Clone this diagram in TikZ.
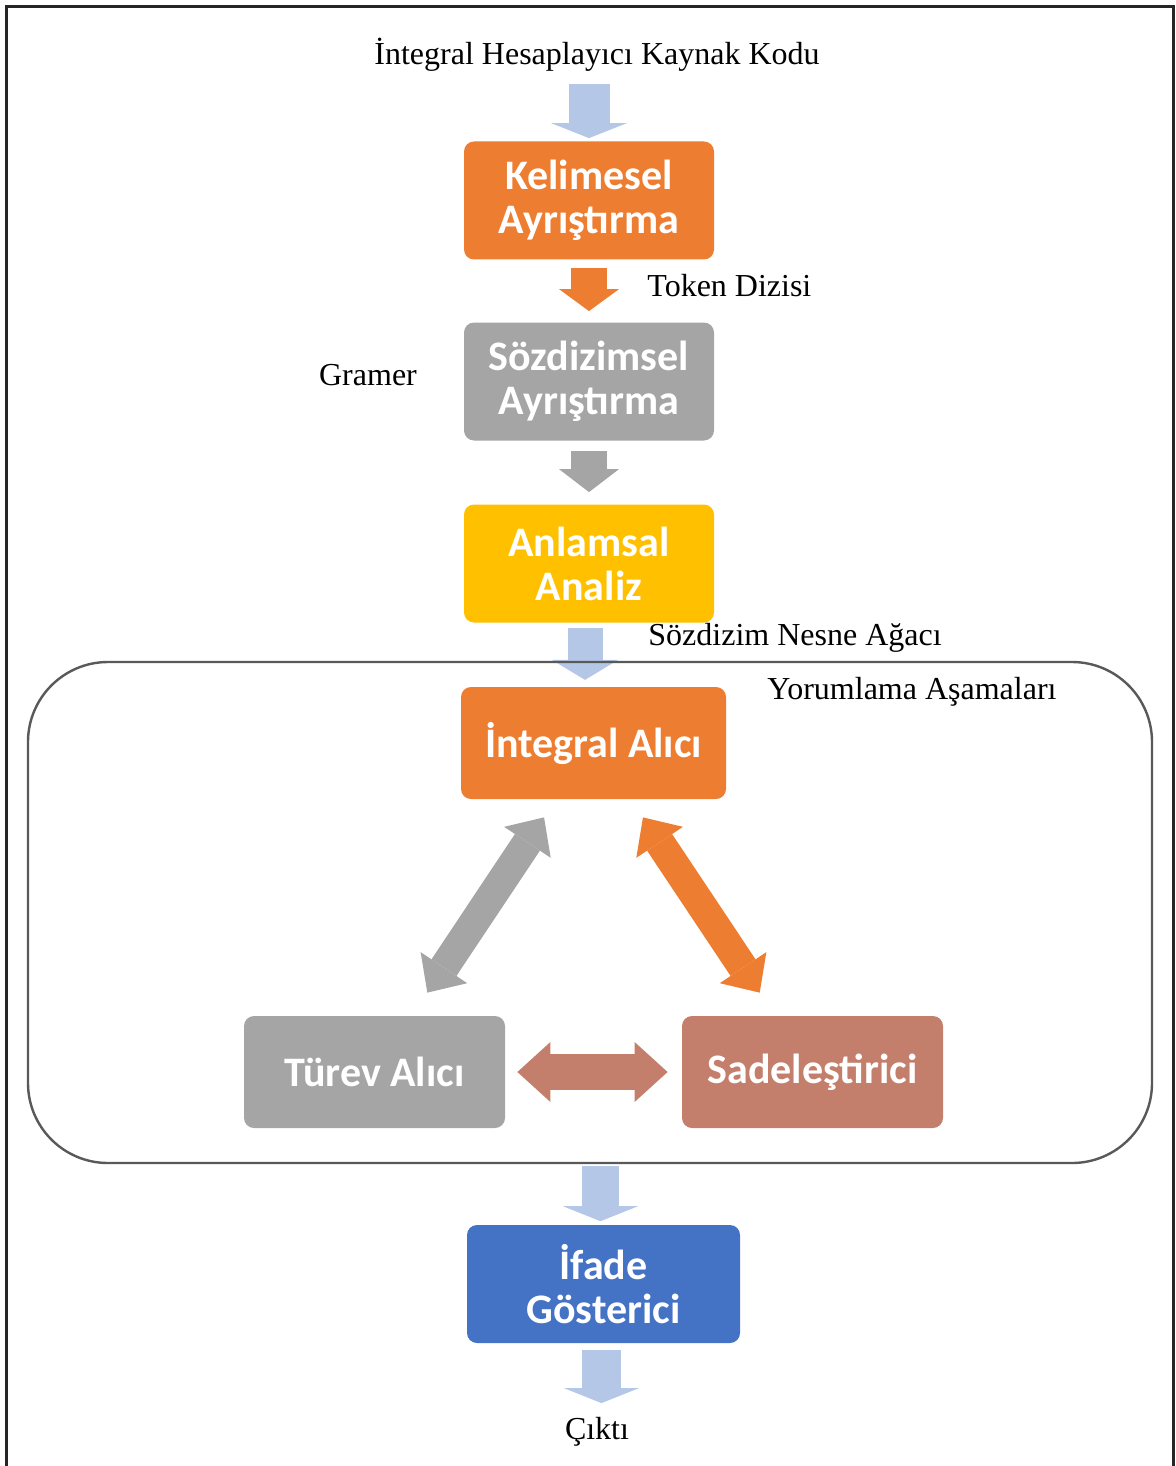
\documentclass[tikz,border=0pt]{standalone}
\usepackage{fontspec}
\setmainfont{Liberation Serif}
\newfontfamily\kutufont{Carlito}
\usetikzlibrary{arrows.meta, positioning}

\definecolor{turuncu}{HTML}{ED7D31}
\definecolor{gri}{HTML}{A5A5A5}
\definecolor{sari}{HTML}{FFC000}
\definecolor{mavi}{HTML}{4472C4}
\definecolor{acikmavi}{HTML}{B4C7E7}
\definecolor{kiremit}{RGB}{196,127,108}
\definecolor{cizgi}{HTML}{595959}

\tikzset{
  kutu/.style={rounded corners=5pt, minimum width=125pt, minimum height=59pt,
    align=center, text=white, inner sep=2pt,
    font=\kutufont\bfseries\fontsize{21}{22}\selectfont},
  etiket/.style={font=\fontsize{16}{18}\selectfont, inner sep=1pt},
  blok/.style n args={4}{color=#1, line width=#2,
    -{Triangle[length=#3 0 0, width=#4 0 0, line width=0pt 0 0]}},
  ciftblok/.style n args={4}{color=#1, line width=#2,
    {Triangle[length=#3 0 0, width=#4 0 0, line width=0pt 0 0]}-{Triangle[length=#3 0 0, width=#4 0 0, line width=0pt 0 0]}}
}

\begin{document}
\begin{tikzpicture}[x=0.5pt, y=-0.5pt]
	\useasboundingbox (0,0) rectangle (1175,1466);
	\draw[line width=1.5pt, black!85] (6,1470) -- (6,7) -- (1173,7) -- (1173,1470);
	
	% asamalar
	\node[etiket] (kaynak) at (597,55) {İntegral Hesaplayıcı Kaynak Kodu};
	\node[kutu, fill=turuncu] (kelime) at (589,200.5) {Kelimesel\\Ayrıştırma};
	\node[kutu, fill=gri] (sozdizim) at (589,381.5) {Sözdizimsel\\Ayrıştırma};
	\node[kutu, fill=sari] (anlam) at (589,563.5) {Anlamsal\\Analiz};
	\node[kutu, fill=turuncu, minimum width=132.5pt, minimum height=56pt] (integral) at (593.5,743) {İntegral Alıcı};
	\node[kutu, fill=gri, minimum width=130.5pt, minimum height=56pt] (turev) at (374.5,1072) {Türev Alıcı};
	\node[kutu, fill=kiremit, minimum width=130.5pt, minimum height=56pt] (sade) at (812.5,1072) {Sadeleştirici};
	\node[kutu, fill=mavi, minimum width=136.5pt] (ifade) at (603.5,1284) {İfade\\Gösterici};
	\node[etiket] (cikti) at (597,1432) {Çıktı};
	
	\node[etiket, anchor=west] (token) at (645,286) {Token Dizisi};
	\node[etiket] (gramer) at (368,375) {Gramer};
	\node[etiket, anchor=west] (agac) at (646,638) {Sözdizim Nesne Ağacı};
	\node[etiket, anchor=west] (yorum) at (765,692) {Yorumlama Aşamaları};
	
	% oklar
	\draw[blok={acikmavi}{20.5pt}{7.5pt}{38pt}, shorten <=5pt, shorten >=1.5pt]
		(kelime.north |- kaynak.south) -- (kelime.north);
	\draw[blok={turuncu}{18pt}{11pt}{30pt}, shorten <=4pt, shorten >=5.5pt]
		(kelime) -- (sozdizim);
	\draw[blok={gri}{18pt}{11.5pt}{30pt}, shorten <=5pt, shorten >=6pt]
		(sozdizim) -- (anlam);
	\draw[blok={acikmavi}{17.5pt}{10pt}{33pt}, shorten <=2.5pt, shorten >=2pt]
		(anlam.south) ++(-4,0) -- ++(0,61);
	
	\node[draw=cizgi, line width=1.2pt, rounded corners=40pt, minimum width=562pt,
		minimum height=250.5pt] (yorumlama) at (590,912.5) {};
	
	\draw[ciftblok={gri}{15pt}{15pt}{28pt}, shorten <=10.8pt, shorten >=13.8pt]
		(integral) -- (turev);
	\draw[ciftblok={turuncu}{15pt}{15pt}{28pt}, shorten <=10.8pt, shorten >=13.8pt]
		(integral) -- (sade);
	\draw[ciftblok={kiremit}{18pt}{16.5pt}{30pt}, shorten <=6pt, shorten >=7pt]
		(turev) -- (sade);
	
	\draw[blok={acikmavi}{18.5pt}{7.5pt}{37.5pt}, shorten <=1pt, shorten >=2.5pt]
		(yorumlama.south -| ifade.north) ++(-3,0) -- ++(0,62);
	\draw[blok={acikmavi}{19.5pt}{7.5pt}{37.5pt}, shorten <=3.5pt, shorten >=6pt]
		(ifade.south) ++(-2,0) -- (cikti.north -| 601.5,0);
\end{tikzpicture}
\end{document}
